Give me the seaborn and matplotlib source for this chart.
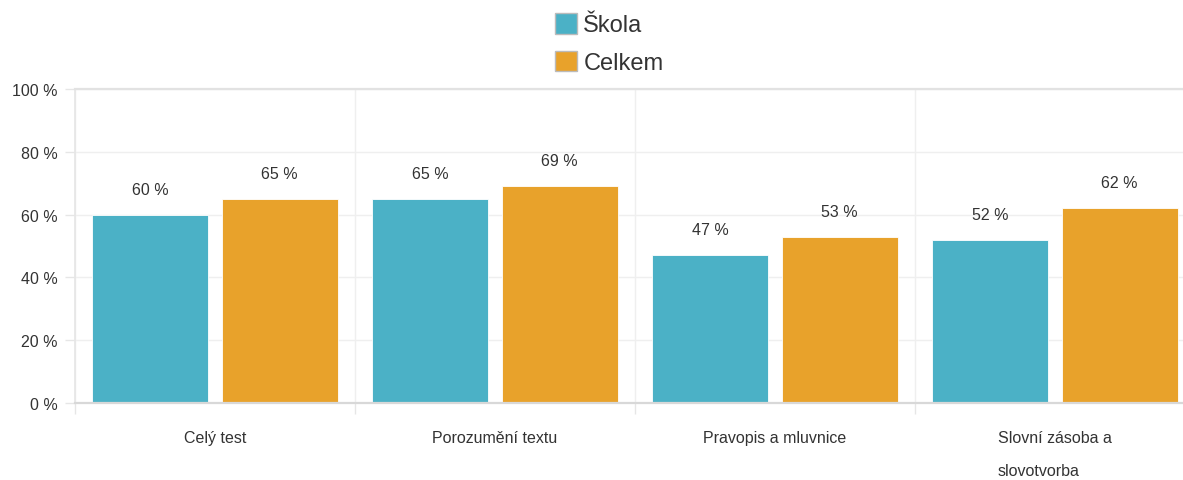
import matplotlib
matplotlib.use("Agg")
import matplotlib.pyplot as plt
import seaborn as sns
import pandas as pd
from matplotlib.patches import Patch

categories = ["Celý test", "Porozumění textu", "Pravopis a mluvnice", "Slovní zásoba a\nslovotvorba"]
series_names = ["Škola", "Celkem"]
skola = [60, 65, 47, 52]
celkem = [65, 69, 53, 62]
y_ticks = [0, 20, 40, 60, 80, 100]
y_tick_labels = ["0 %", "20 %", "40 %", "60 %", "80 %", "100 %"]
colors = ["#4BB1C6", "#E8A22B"]

df = pd.DataFrame({
    "cat": categories * 2,
    "series": [series_names[0]] * 4 + [series_names[1]] * 4,
    "value": skola + celkem,
})

sns.set_theme(style="white")
plt.rcParams["font.family"] = ["Liberation Sans", "DejaVu Sans"]

W, H = 1183, 481
fig = plt.figure(figsize=(W / 100, H / 100), dpi=100)
fig.patch.set_facecolor("white")
ax = fig.add_axes([75 / W, 77 / H, 1120 / W, 314 / H])

sns.barplot(data=df, x="cat", y="value", hue="series", palette=colors,
            width=0.925, gap=0.104, ax=ax, legend=False, saturation=1,
            edgecolor="white", linewidth=0.6)

ax.set_xlim(-0.5, 3.5)
ax.set_ylim(0, 100)
ax.set_xlabel("")
ax.set_ylabel("")

for cont in ax.containers:
    ax.bar_label(cont, labels=[f"{v:.0f} %" for v in cont.datavalues],
                 padding=13, fontsize=11.5, color="#333333")

ax.set_yticks(y_ticks)
ax.set_yticklabels(y_tick_labels)
ax.tick_params(axis="y", length=7.5, width=1, color="#e6e6e6", labelsize=11.5,
               labelcolor="#333333", pad=5, left=True)
ax.set_xticks(range(len(categories)))
ax.set_xticklabels(categories, linespacing=2.5, multialignment="left")
ax.set_xticks([-0.5, 0.5, 1.5, 2.5], minor=True)
ax.tick_params(axis="x", which="major", length=0, labelsize=11.5, labelcolor="#333333", pad=19.5)
ax.tick_params(axis="x", which="minor", length=8, width=1, color="#e6e6e6", bottom=True)

ax.grid(True, axis="y", color="#efefef", linewidth=1)
ax.grid(True, axis="x", which="minor", color="#efefef", linewidth=1)
ax.grid(False, axis="x", which="major")
ax.set_axisbelow(True)

ax.spines["right"].set_visible(False)
ax.spines["left"].set_color("#e6e6e6")
ax.spines["top"].set_color("#e2e2e2")
ax.spines["top"].set_linewidth(1.6)
ax.spines["bottom"].set_color("#d8d8d8")
ax.spines["bottom"].set_linewidth(1.6)

handles = [Patch(facecolor=c, edgecolor="#bbbbbb", linewidth=1) for c in colors]
fig.legend(handles, series_names, loc="upper center", bbox_to_anchor=(0.515, 1.0),
           ncol=1, frameon=False, fontsize=17, handlelength=0.95, handleheight=0.95,
           handletextpad=0.25, labelspacing=0.6, labelcolor="#333333", borderpad=0.1)

fig.savefig("out.png", dpi=100, facecolor="white")
